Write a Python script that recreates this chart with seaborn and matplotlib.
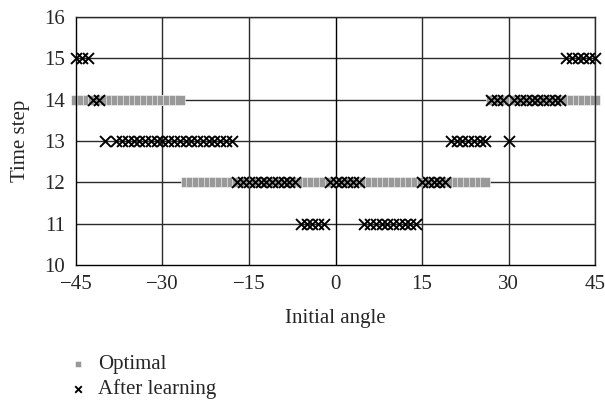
import matplotlib
matplotlib.use("Agg")
import matplotlib.pyplot as plt
import seaborn as sns
import numpy as np
import pandas as pd

# optimal time step for each initial angle (integer degrees)
optimal_angle = list(range(-45, 46))
optimal_step = [12 if abs(a) <= 26 else 14 for a in optimal_angle]

# time step reached after learning
learned_angle = ([-45, -44, -43, -42, -41]
                 + [-40] + list(range(-38, -17))
                 + list(range(-17, -6))
                 + list(range(-6, -1))
                 + list(range(-1, 5))
                 + list(range(5, 15))
                 + list(range(15, 20))
                 + list(range(20, 27))
                 + [27, 28, 29, 30] + list(range(31, 40))
                 + list(range(40, 46)))
learned_step = ([15, 15, 15, 14, 14]
                + [13] * 22
                + [12] * 11
                + [11] * 5
                + [12] * 6
                + [11] * 10
                + [12] * 5
                + [13] * 7
                + [14, 14, 14, 13] + [14] * 9
                + [15] * 6)

x_ticks = [-45, -30, -15, 0, 15, 30, 45]
y_ticks = [10, 11, 12, 13, 14, 15, 16]

df_opt = pd.DataFrame({"angle": optimal_angle, "step": optimal_step})
df_learn = pd.DataFrame({"angle": learned_angle, "step": learned_step})

sns.set_style("white")
plt.rcParams["font.family"] = ["Liberation Serif", "DejaVu Serif"]

fig = plt.figure(figsize=(6.05, 4.0), dpi=100)
ax = fig.add_axes([0.1256, 0.3375, 0.8579, 0.62])

for y in y_ticks[1:]:
    ax.axhline(y, color="#2a2a2a", linewidth=1.0, zorder=1)
for x in x_ticks[1:]:
    ax.axvline(x, color="#2a2a2a" if x != 0 else "black", linewidth=1.0, zorder=1)

sns.scatterplot(data=df_opt, x="angle", y="step", marker="s", s=44,
                color="#999999", edgecolor="white", linewidth=0.4,
                ax=ax, zorder=2, label="Optimal", clip_on=False)
sns.scatterplot(data=df_learn, x="angle", y="step", marker="x", s=62,
                color="black", linewidth=1.4, ax=ax, zorder=3,
                label="After learning", clip_on=False)

ax.set_xlim(-45, 45)
ax.set_ylim(10, 16)
ax.set_xticks(x_ticks)
ax.set_xticklabels(["\u221245", "\u221230", "\u221215", "0", "15", "30", "45"])
ax.set_yticks(y_ticks)
ax.tick_params(axis="x", labelsize=15, length=0, pad=7)
ax.tick_params(axis="y", labelsize=15, length=0, pad=8)
for s in ax.spines.values():
    s.set_color("#2a2a2a")
    s.set_linewidth(1.0)
ax.spines["left"].set_color("black")
ax.spines["bottom"].set_color("black")

ax.set_xlabel("Initial angle", fontsize=15, labelpad=11)
ax.set_ylabel("Time step", fontsize=15, labelpad=10)

handles, labels = ax.get_legend_handles_labels()
ax.get_legend().remove()
leg = fig.legend(handles, labels, loc="lower left", bbox_to_anchor=(0.077, -0.045),
                 frameon=False, fontsize=15, handletextpad=0.35,
                 labelspacing=0.25, markerscale=0.6, handlelength=1.2)

fig.savefig("out.png", dpi=100)
